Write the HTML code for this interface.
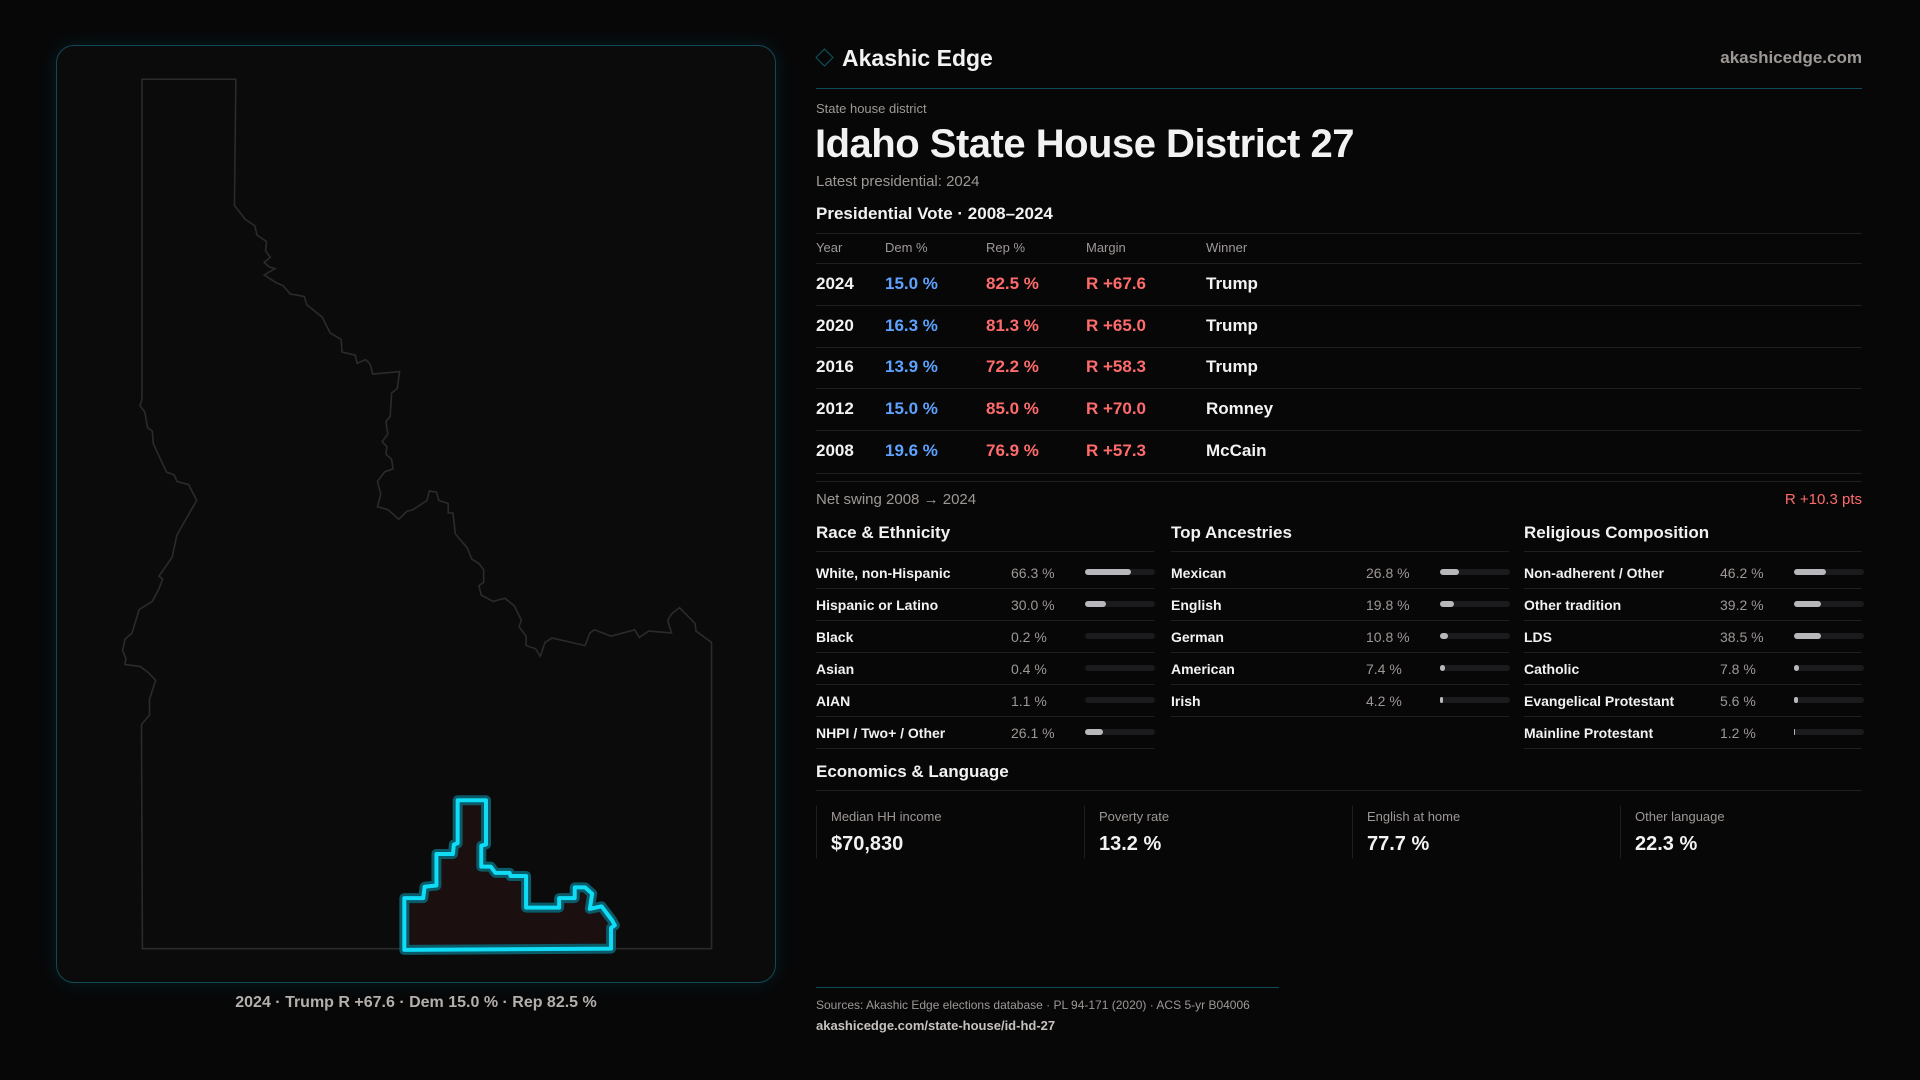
<!DOCTYPE html>
<html><head><meta charset="utf-8"><style>
*{margin:0;padding:0;box-sizing:border-box}
body{width:1920px;height:1080px;background:#070708;font-family:"Liberation Sans",sans-serif;color:#f2f2f2;position:relative;overflow:hidden}
.a{position:absolute;white-space:nowrap}
.g{color:#9e9895}
.ln{position:absolute;height:1px;background:#1f1f21}
.b{color:#5ea2ff}.r{color:#ff6b6b}
.bar{position:absolute;height:6px;border-radius:3px;background:#1b1b1d;width:70px}
.bar i{display:block;height:6px;border-radius:3px;background:#b8b8bc}
</style></head><body>
<div class="a" style="left:56px;top:45px;width:720px;height:938px;border:1px solid #0f4a55;border-radius:18px;background:#0b0b0c;box-shadow:0 0 18px rgba(0,200,230,0.12)"></div>
<svg class="a" style="left:40px;top:30px" width="740" height="990" viewBox="0 0 1568 1568" preserveAspectRatio="none">
<polygon fill="none" stroke="#2c2b2b" stroke-width="1.6" vector-effect="non-scaling-stroke" points="216,78 415,78 412,278 435,300 455,310 460,325 480,335 478,350 488,360 475,368 485,375 498,378 475,388 500,400 515,405 530,418 560,422 565,435 598,455 615,480 638,490 640,510 668,515 672,528 690,522 700,530 705,545 762,541 757,568 745,575 742,612 733,620 737,640 725,652 735,660 733,672 745,680 748,695 730,700 715,715 722,735 715,755 738,760 760,775 778,762 790,760 820,745 825,730 840,732 845,745 865,750 865,765 875,765 880,798 905,820 915,838 930,845 940,855 940,875 930,880 935,895 960,905 985,900 1005,912 1020,935 1015,945 1030,960 1030,975 1050,980 1060,992 1070,970 1085,963 1155,975 1165,955 1175,950 1210,960 1260,950 1270,962 1290,952 1338,955 1330,935 1338,925 1355,915 1388,940 1390,952 1423,970 1423,1455 217,1455 215,1100 232,1085 232,1060 245,1030 230,1018 212,1008 180,1005 182,995 175,983 180,965 195,955 210,918 238,905 252,885 260,870 252,865 280,835 290,800 332,745 315,720 290,715 285,705 268,700 240,655 238,635 228,630 222,605 212,595 216,585"/>
<polygon fill="#1c0f10" stroke="#0a5a68" stroke-width="10" stroke-linejoin="round" vector-effect="non-scaling-stroke" points="885,1220 945,1220 945,1290 935,1292 935,1325 955,1325 965,1335 995,1335 997,1340 1030,1340 1030,1390 1100,1390 1100,1375 1133,1375 1133,1358 1155,1358 1170,1368 1165,1392 1190,1388 1212,1410 1218,1418 1210,1422 1210,1455 772,1457 772,1375 812,1375 815,1357 840,1355 840,1305 875,1305 877,1290 885,1288"/>
<polygon fill="none" stroke="#10dcf5" stroke-width="4" stroke-linejoin="round" vector-effect="non-scaling-stroke" points="885,1220 945,1220 945,1290 935,1292 935,1325 955,1325 965,1335 995,1335 997,1340 1030,1340 1030,1390 1100,1390 1100,1375 1133,1375 1133,1358 1155,1358 1170,1368 1165,1392 1190,1388 1212,1410 1218,1418 1210,1422 1210,1455 772,1457 772,1375 812,1375 815,1357 840,1355 840,1305 875,1305 877,1290 885,1288"/>
</svg>
<div class="a g" style="left:56px;width:720px;text-align:center;top:994px;font-size:16px;color:#b5afac;font-weight:bold">2024 · Trump R +67.6 · Dem 15.0 % · Rep 82.5 %</div>

<div class="a" style="left:818px;top:51px;width:13px;height:13px;border:1.5px solid #0f5560;transform:rotate(45deg)"></div>
<div class="a" style="left:842px;top:45px;font-size:23px;font-weight:bold">Akashic Edge</div>
<div class="a g" style="right:58px;top:48px;font-size:17px;font-weight:bold">akashicedge.com</div>
<div class="ln" style="left:816px;width:1046px;top:88px;background:#0f4a55"></div>
<div class="a g" style="left:816px;top:101px;font-size:13px">State house district</div>
<div class="a" style="left:815px;top:122px;font-size:40px;font-weight:bold;letter-spacing:-0.5px">Idaho State House District 27</div>
<div class="a g" style="left:816px;top:173px;font-size:15px">Latest presidential: 2024</div>
<div class="a" style="left:816px;top:204px;font-size:17px;font-weight:bold">Presidential Vote · 2008–2024</div>
<div class="ln" style="left:816px;width:1046px;top:233px"></div>
<div class="a g" style="left:816px;top:240px;font-size:13px">Year</div>
<div class="a g" style="left:885px;top:240px;font-size:13px">Dem %</div>
<div class="a g" style="left:986px;top:240px;font-size:13px">Rep %</div>
<div class="a g" style="left:1086px;top:240px;font-size:13px">Margin</div>
<div class="a g" style="left:1206px;top:240px;font-size:13px">Winner</div>
<div class="ln" style="left:816px;width:1046px;top:263px"></div>

<div style="position:absolute;left:0;top:274px;font-size:17px;font-weight:bold">
<div class="a" style="left:816px;top:0">2024</div><div class="a b" style="left:885px;top:0">15.0 %</div><div class="a r" style="left:986px;top:0">82.5 %</div><div class="a r" style="left:1086px;top:0">R +67.6</div><div class="a" style="left:1206px;top:0">Trump</div>
<div class="a" style="left:816px;top:42px">2020</div><div class="a b" style="left:885px;top:42px">16.3 %</div><div class="a r" style="left:986px;top:42px">81.3 %</div><div class="a r" style="left:1086px;top:42px">R +65.0</div><div class="a" style="left:1206px;top:42px">Trump</div>
<div class="a" style="left:816px;top:83px">2016</div><div class="a b" style="left:885px;top:83px">13.9 %</div><div class="a r" style="left:986px;top:83px">72.2 %</div><div class="a r" style="left:1086px;top:83px">R +58.3</div><div class="a" style="left:1206px;top:83px">Trump</div>
<div class="a" style="left:816px;top:125px">2012</div><div class="a b" style="left:885px;top:125px">15.0 %</div><div class="a r" style="left:986px;top:125px">85.0 %</div><div class="a r" style="left:1086px;top:125px">R +70.0</div><div class="a" style="left:1206px;top:125px">Romney</div>
<div class="a" style="left:816px;top:167px">2008</div><div class="a b" style="left:885px;top:167px">19.6 %</div><div class="a r" style="left:986px;top:167px">76.9 %</div><div class="a r" style="left:1086px;top:167px">R +57.3</div><div class="a" style="left:1206px;top:167px">McCain</div>
</div>
<div class="ln" style="left:816px;width:1046px;top:305px"></div>
<div class="ln" style="left:816px;width:1046px;top:347px"></div>
<div class="ln" style="left:816px;width:1046px;top:388px"></div>
<div class="ln" style="left:816px;width:1046px;top:430px"></div>
<div class="ln" style="left:816px;width:1046px;top:473px"></div>
<div class="ln" style="left:816px;width:1046px;top:481px"></div>
<div class="a g" style="left:816px;top:491px;font-size:15px">Net swing 2008 → 2024</div>
<div class="a r" style="right:58px;top:491px;font-size:15px">R +10.3 pts</div>

<div class="a" style="left:816px;top:523px;font-size:17px;font-weight:bold">Race &amp; Ethnicity</div>
<div class="a" style="left:1171px;top:523px;font-size:17px;font-weight:bold">Top Ancestries</div>
<div class="a" style="left:1524px;top:523px;font-size:17px;font-weight:bold">Religious Composition</div>
<div class="ln" style="left:816px;width:338px;top:551px"></div>
<div class="ln" style="left:1171px;width:338px;top:551px"></div>
<div class="ln" style="left:1524px;width:338px;top:551px"></div>

<div style="position:absolute;left:0;top:1px;font-size:14px;font-weight:bold">
<div class="a" style="left:816px;top:564px">White, non-Hispanic</div><div class="a g" style="left:1011px;top:564px;font-weight:normal">66.3 %</div><div class="bar" style="left:1085px;top:568px"><i style="width:46px"></i></div>
<div class="a" style="left:816px;top:596px">Hispanic or Latino</div><div class="a g" style="left:1011px;top:596px;font-weight:normal">30.0 %</div><div class="bar" style="left:1085px;top:600px"><i style="width:21px"></i></div>
<div class="a" style="left:816px;top:628px">Black</div><div class="a g" style="left:1011px;top:628px;font-weight:normal">0.2 %</div><div class="bar" style="left:1085px;top:632px"></div>
<div class="a" style="left:816px;top:660px">Asian</div><div class="a g" style="left:1011px;top:660px;font-weight:normal">0.4 %</div><div class="bar" style="left:1085px;top:664px"></div>
<div class="a" style="left:816px;top:692px">AIAN</div><div class="a g" style="left:1011px;top:692px;font-weight:normal">1.1 %</div><div class="bar" style="left:1085px;top:696px"></div>
<div class="a" style="left:816px;top:724px">NHPI / Two+ / Other</div><div class="a g" style="left:1011px;top:724px;font-weight:normal">26.1 %</div><div class="bar" style="left:1085px;top:728px"><i style="width:18px"></i></div>
<div class="a" style="left:1171px;top:564px">Mexican</div><div class="a g" style="left:1366px;top:564px;font-weight:normal">26.8 %</div><div class="bar" style="left:1440px;top:568px"><i style="width:19px"></i></div>
<div class="a" style="left:1171px;top:596px">English</div><div class="a g" style="left:1366px;top:596px;font-weight:normal">19.8 %</div><div class="bar" style="left:1440px;top:600px"><i style="width:14px"></i></div>
<div class="a" style="left:1171px;top:628px">German</div><div class="a g" style="left:1366px;top:628px;font-weight:normal">10.8 %</div><div class="bar" style="left:1440px;top:632px"><i style="width:8px"></i></div>
<div class="a" style="left:1171px;top:660px">American</div><div class="a g" style="left:1366px;top:660px;font-weight:normal">7.4 %</div><div class="bar" style="left:1440px;top:664px"><i style="width:5px"></i></div>
<div class="a" style="left:1171px;top:692px">Irish</div><div class="a g" style="left:1366px;top:692px;font-weight:normal">4.2 %</div><div class="bar" style="left:1440px;top:696px"><i style="width:3px"></i></div>
<div class="a" style="left:1524px;top:564px">Non-adherent / Other</div><div class="a g" style="left:1720px;top:564px;font-weight:normal">46.2 %</div><div class="bar" style="left:1794px;top:568px"><i style="width:32px"></i></div>
<div class="a" style="left:1524px;top:596px">Other tradition</div><div class="a g" style="left:1720px;top:596px;font-weight:normal">39.2 %</div><div class="bar" style="left:1794px;top:600px"><i style="width:27px"></i></div>
<div class="a" style="left:1524px;top:628px">LDS</div><div class="a g" style="left:1720px;top:628px;font-weight:normal">38.5 %</div><div class="bar" style="left:1794px;top:632px"><i style="width:27px"></i></div>
<div class="a" style="left:1524px;top:660px">Catholic</div><div class="a g" style="left:1720px;top:660px;font-weight:normal">7.8 %</div><div class="bar" style="left:1794px;top:664px"><i style="width:5px"></i></div>
<div class="a" style="left:1524px;top:692px">Evangelical Protestant</div><div class="a g" style="left:1720px;top:692px;font-weight:normal">5.6 %</div><div class="bar" style="left:1794px;top:696px"><i style="width:4px"></i></div>
<div class="a" style="left:1524px;top:724px">Mainline Protestant</div><div class="a g" style="left:1720px;top:724px;font-weight:normal">1.2 %</div><div class="bar" style="left:1794px;top:728px"><i style="width:1px"></i></div>
</div>
<div class="ln" style="left:816px;width:338px;top:588px"></div><div class="ln" style="left:1171px;width:338px;top:588px"></div><div class="ln" style="left:1524px;width:338px;top:588px"></div>
<div class="ln" style="left:816px;width:338px;top:620px"></div><div class="ln" style="left:1171px;width:338px;top:620px"></div><div class="ln" style="left:1524px;width:338px;top:620px"></div>
<div class="ln" style="left:816px;width:338px;top:652px"></div><div class="ln" style="left:1171px;width:338px;top:652px"></div><div class="ln" style="left:1524px;width:338px;top:652px"></div>
<div class="ln" style="left:816px;width:338px;top:684px"></div><div class="ln" style="left:1171px;width:338px;top:684px"></div><div class="ln" style="left:1524px;width:338px;top:684px"></div>
<div class="ln" style="left:816px;width:338px;top:716px"></div><div class="ln" style="left:1171px;width:338px;top:716px"></div><div class="ln" style="left:1524px;width:338px;top:716px"></div>
<div class="ln" style="left:816px;width:338px;top:748px"></div><div class="ln" style="left:1524px;width:338px;top:748px"></div>

<div class="a" style="left:816px;top:762px;font-size:17px;font-weight:bold">Economics &amp; Language</div>
<div class="ln" style="left:816px;width:1046px;top:790px"></div>
<div class="a" style="left:816px;top:806px;height:52px;border-left:1px solid #1f1f21;padding-left:14px;padding-top:3px"><div class="g" style="font-size:13px">Median HH income</div><div style="font-size:20px;font-weight:bold;margin-top:9px">$70,830</div></div>
<div class="a" style="left:1084px;top:806px;height:52px;border-left:1px solid #1f1f21;padding-left:14px;padding-top:3px"><div class="g" style="font-size:13px">Poverty rate</div><div style="font-size:20px;font-weight:bold;margin-top:9px">13.2 %</div></div>
<div class="a" style="left:1352px;top:806px;height:52px;border-left:1px solid #1f1f21;padding-left:14px;padding-top:3px"><div class="g" style="font-size:13px">English at home</div><div style="font-size:20px;font-weight:bold;margin-top:9px">77.7 %</div></div>
<div class="a" style="left:1620px;top:806px;height:52px;border-left:1px solid #1f1f21;padding-left:14px;padding-top:3px"><div class="g" style="font-size:13px">Other language</div><div style="font-size:20px;font-weight:bold;margin-top:9px">22.3 %</div></div>

<div class="ln" style="left:816px;width:463px;top:987px;background:#0f4a55"></div>
<div class="a g" style="left:816px;top:998px;font-size:12px">Sources: Akashic Edge elections database · PL 94-171 (2020) · ACS 5-yr B04006</div>
<div class="a" style="left:816px;top:1018px;font-size:13px;font-weight:bold;color:#c8c2bf">akashicedge.com/state-house/id-hd-27</div>
</body></html>
